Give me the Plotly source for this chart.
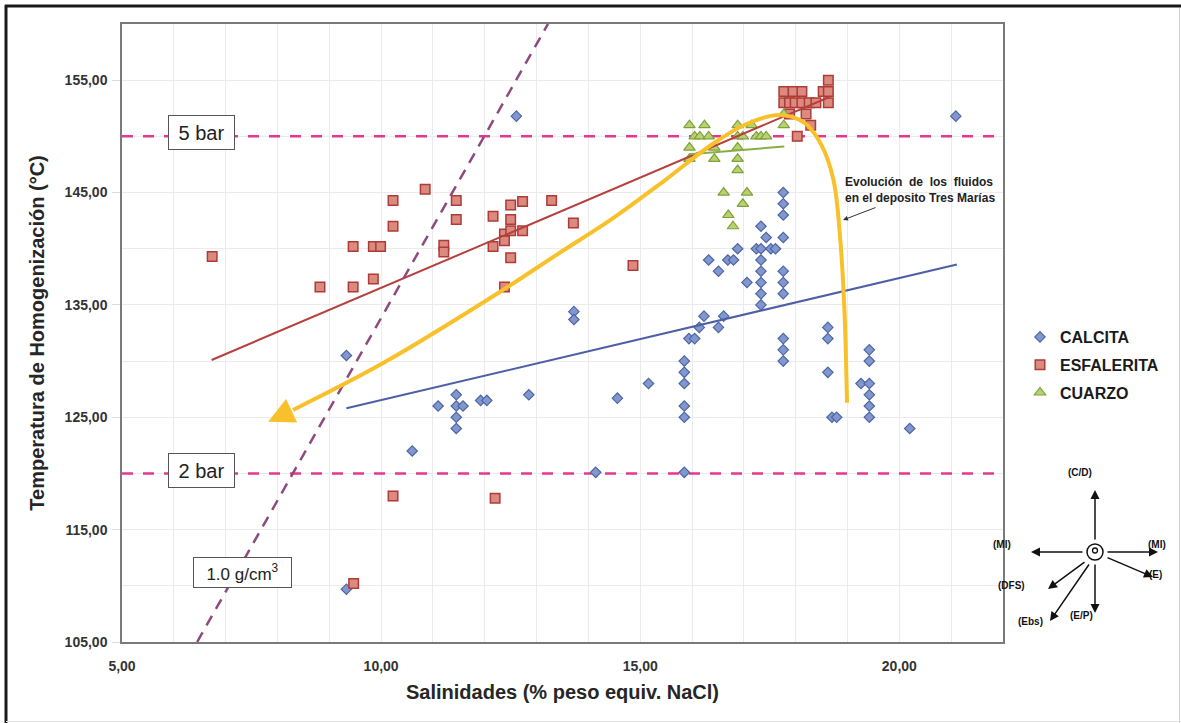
import plotly.graph_objects as go

# ---------------- data ----------------
calcita_x = [9.33, 9.33, 10.60, 11.10, 11.45, 11.45, 11.58, 11.45, 11.45, 11.92, 12.04,
             12.61, 12.85, 13.72, 13.72, 14.14, 14.56, 15.16, 15.85, 15.85, 15.85, 15.85,
             15.85, 15.85, 15.94, 16.05, 16.14, 16.23, 16.32, 16.51, 16.51, 16.61, 16.69,
             16.80, 16.88, 17.06, 17.24, 17.33, 17.33, 17.33, 17.33, 17.33, 17.33, 17.33,
             17.43, 17.52, 17.61, 17.76, 17.76, 17.76, 17.76, 17.76, 17.76, 17.76, 17.76,
             17.76, 17.76, 18.62, 18.62, 18.62, 18.70, 18.79, 19.26, 19.42, 19.42, 19.42,
             19.42, 19.42, 19.42, 20.20, 21.09]
calcita_y = [130.5, 109.7, 122.0, 126.0, 127.0, 126.0, 126.0, 125.0, 124.0, 126.5, 126.5,
             151.8, 127.0, 134.4, 133.7, 120.1, 126.7, 128.0, 130.0, 129.0, 128.0, 126.0,
             125.0, 120.1, 132.0, 132.0, 133.0, 134.0, 139.0, 138.0, 133.0, 134.0, 139.0,
             139.0, 140.0, 137.0, 140.0, 142.0, 140.0, 139.0, 138.0, 137.0, 136.0, 135.0,
             141.0, 140.0, 140.0, 145.0, 144.0, 143.0, 141.0, 138.0, 137.0, 136.0, 132.0,
             131.0, 130.0, 133.0, 132.0, 129.0, 125.0, 125.0, 128.0, 131.0, 130.0, 128.0,
             127.0, 126.0, 125.0, 124.0, 151.8]

esfalerita_x = [6.74, 8.82, 9.46, 9.46, 9.85, 9.99, 9.85, 10.23, 10.23, 10.85, 11.45, 11.45,
                11.21, 11.21, 12.16, 12.16, 12.38, 12.38, 12.50, 12.50, 12.50, 12.50, 12.38,
                12.73, 12.73, 13.29, 13.71, 14.86, 10.23, 12.20, 9.47,
                18.63, 17.77, 17.95, 18.12, 18.53, 18.63,
                17.77, 17.88, 17.99, 18.12, 18.26, 18.39, 18.63,
                17.88, 18.20, 18.29, 18.03]
esfalerita_y = [139.3, 136.6, 136.6, 140.2, 140.2, 140.2, 137.3, 144.3, 142.0, 145.3, 144.3, 142.6,
                140.3, 139.7, 142.9, 140.2, 141.3, 140.7, 143.9, 142.6, 141.6, 139.2, 136.6,
                144.2, 141.6, 144.3, 142.3, 138.5, 118.0, 117.8, 110.2,
                155.0, 154.0, 154.0, 154.0, 154.0, 154.0,
                153.0, 153.0, 153.0, 153.0, 153.0, 153.0, 153.0,
                152.0, 152.0, 151.0, 150.0]

cuarzo_x = [15.95, 16.24, 16.88, 17.15,
            16.05, 16.15, 16.32, 16.88, 16.98, 17.24, 17.33, 17.43,
            15.95, 16.43, 16.88, 15.95, 16.43, 16.88, 16.88,
            16.61, 17.06, 16.98, 16.70, 16.79, 17.77, 17.77]
cuarzo_y = [151.0, 151.0, 151.0, 151.0,
            150.0, 150.0, 150.0, 150.0, 150.0, 150.0, 150.0, 150.0,
            149.0, 149.0, 149.0, 148.0, 148.0, 148.0, 147.0,
            145.0, 145.0, 144.0, 143.0, 142.0, 152.0, 151.0]

# linear trend lines (end points)
esf_trend_x = [6.73, 18.65]
esf_trend_y = [130.1, 153.5]
cal_trend_x = [9.33, 21.11]
cal_trend_y = [125.8, 138.6]
cua_trend_x = [15.95, 17.78]
cua_trend_y = [148.4, 149.1]

# isochore 1.0 g/cm3
dens_x = [6.45, 13.22]
dens_y = [105.0, 160.0]

# axis ranges
x_range = [5, 22]
y_range = [105, 160]

# pressure levels
pressure_y = [150.0, 120.0]
pressure_labels = ["5 bar", "2 bar"]

# fluid evolution path (yellow), from its start to the arrow
evol_x = [18.99, 18.94, 18.86, 18.73, 18.50, 18.17, 17.69, 17.05, 16.39, 15.45, 14.47,
          13.40, 12.29, 10.03, 8.30]
evol_y = [126.3, 134.55, 140.8, 146.1, 149.2, 151.2, 151.9, 151.1, 149.3, 146.0, 142.7,
          139.5, 136.15, 129.8, 125.65]
evol_tip = (7.82, 124.6)

x_ticks = [5, 10, 15, 20]
y_ticks = [105, 115, 125, 135, 145, 155]

FONT = "Liberation Sans, Arial, sans-serif"

# ---------------- layout geometry ----------------
W, H = 1181, 723
L, R, T, B = 122, 1003, 24, 642


def px(xp):
    return (xp - L) / (R - L)


def py(yp):
    return (B - yp) / (B - T)


fig = go.Figure()

# pressure lines (below the markers)
for yv in pressure_y:
    fig.add_trace(go.Scatter(x=x_range, y=[yv, yv], mode="lines", showlegend=False,
                             line=dict(color="#E5388C", width=2.5, dash="11px,10px"),
                             hoverinfo="skip"))

fig.add_trace(go.Scatter(
    x=calcita_x, y=calcita_y, mode="markers", name="CALCITA", legendgroup="a",
    marker=dict(symbol="diamond", size=8, color="#8197CD",
                line=dict(color="#4E66A6", width=1.2))))
fig.add_trace(go.Scatter(
    x=esfalerita_x, y=esfalerita_y, mode="markers", name="ESFALERITA", legendgroup="b",
    marker=dict(symbol="square", size=9.5, color="#DB8A80",
                line=dict(color="#AE3B36", width=1.5))))
fig.add_trace(go.Scatter(
    x=cuarzo_x, y=cuarzo_y, mode="markers", name="CUARZO", legendgroup="c",
    marker=dict(symbol="triangle-up", size=10, color="#B8D270",
                line=dict(color="#7FA03C", width=1.2))))

for tx, ty, col in [(esf_trend_x, esf_trend_y, "#B5403D"),
                    (cal_trend_x, cal_trend_y, "#4F5FA5"),
                    (cua_trend_x, cua_trend_y, "#8AAE45")]:
    fig.add_trace(go.Scatter(x=tx, y=ty, mode="lines", showlegend=False,
                             line=dict(color=col, width=2), hoverinfo="skip"))

fig.add_trace(go.Scatter(x=dens_x, y=dens_y, mode="lines", showlegend=False,
                         line=dict(color="#8E4A7E", width=2.5, dash="11px,8px"),
                         hoverinfo="skip"))

fig.add_trace(go.Scatter(x=evol_x, y=evol_y, mode="lines", showlegend=False,
                         line=dict(color="#F8C12B", width=4, shape="spline", smoothing=1.0),
                         hoverinfo="skip"))

shapes = []
# outer frame of the picture
shapes += [
    dict(type="line", xref="paper", yref="paper", x0=px(5), x1=px(1181), y0=py(6), y1=py(6),
         line=dict(color="#1a1a1a", width=3)),
    dict(type="line", xref="paper", yref="paper", x0=px(6), x1=px(6), y0=py(5), y1=py(723),
         line=dict(color="#1a1a1a", width=3)),
    dict(type="line", xref="paper", yref="paper", x0=px(1179.5), x1=px(1179.5), y0=py(8), y1=py(723),
         line=dict(color="#d0d0d0", width=1)),
    dict(type="line", xref="paper", yref="paper", x0=px(6), x1=px(1181), y0=py(721.5), y1=py(721.5),
         line=dict(color="#e2e2e2", width=1)),
]

# compass rose
cx, cy = 1095, 552
shapes += [
    dict(type="circle", xref="paper", yref="paper", xsizemode="pixel", ysizemode="pixel",
         xanchor=px(cx), yanchor=py(cy), x0=-8, x1=8, y0=-8, y1=8,
         line=dict(color="#111", width=1.5)),
    dict(type="circle", xref="paper", yref="paper", xsizemode="pixel", ysizemode="pixel",
         xanchor=px(cx), yanchor=py(cy), x0=-2.5, x1=2.5, y0=-1, y1=4,
         line=dict(color="#111", width=1.3)),
]

annotations = []
# pressure labels
for yv, lab in zip(pressure_y, pressure_labels):
    annotations.append(dict(x=6.54, y=yv + 0.3, xref="x", yref="y", text=lab, showarrow=False,
                            font=dict(family=FONT, size=20, color="#222"),
                            bgcolor="white", bordercolor="#555", borderwidth=1,
                            borderpad=5, width=55, height=23))
annotations.append(dict(x=7.33, y=111.2, xref="x", yref="y", text="1.0 g/cm<sup>3</sup>",
                        showarrow=False, font=dict(family=FONT, size=17, color="#222"),
                        bgcolor="white", bordercolor="#555", borderwidth=1,
                        borderpad=4, width=89, height=21))
# evolution arrowhead
annotations.append(dict(x=evol_tip[0], y=evol_tip[1], ax=evol_x[-1], ay=evol_y[-1],
                        xref="x", yref="y", axref="x", ayref="y", text="", showarrow=True,
                        arrowhead=2, arrowsize=1.3, arrowwidth=4, arrowcolor="#F8C12B"))
# evolution note
annotations.append(dict(x=px(843), y=py(190), xref="paper", yref="paper", xanchor="left",
                        yanchor="middle", align="left", showarrow=False,
                        text="Evolución  de  los  fluidos<br>en el deposito Tres Marías",
                        font=dict(family=FONT, size=12, color="#222", weight="bold")))
annotations.append(dict(x=px(843), y=py(220), ax=877 - 843, ay=207 - 220, xref="paper",
                        yref="paper", text="", showarrow=True, arrowhead=2, arrowsize=1,
                        arrowwidth=1, arrowcolor="#333"))

# compass arrows: (tail, head)
compass = [((1095, 541), (1095, 490)), ((1084, 552), (1031, 552)), ((1106, 552), (1158, 552)),
           ((1106, 557), (1153, 577)), ((1086, 561), (1048, 589)), ((1090, 563), (1050, 621)),
           ((1095, 563), (1095, 613))]
for (tx, ty), (hx, hy) in compass:
    annotations.append(dict(x=px(hx), y=py(hy), xref="paper", yref="paper", ax=tx - hx, ay=ty - hy,
                            text="", showarrow=True, arrowhead=2, arrowsize=1.2, arrowwidth=1.5,
                            arrowcolor="#111"))
compass_labels = [("(C/D)", 1094, 480), ("(MI)", 1013, 552), ("(MI)", 1168, 552),
                  ("(E)", 1164, 582), ("(DFS)", 1027, 593), ("(Ebs)", 1045, 629),
                  ("(E/P)", 1095, 623)]
for t, lx, ly in compass_labels:
    annotations.append(dict(x=px(lx), y=py(ly), xref="paper", yref="paper", text=t,
                            showarrow=False, font=dict(family=FONT, size=10, color="#111",
                                                       weight="bold")))

fig.update_layout(
    width=W, height=H,
    margin=dict(l=L, r=W - R, t=T, b=H - B, autoexpand=False),
    paper_bgcolor="white", plot_bgcolor="white",
    separators=",.",
    shapes=shapes, annotations=annotations,
    showlegend=True,
    legend=dict(x=px(1020), y=py(320), xanchor="left", yanchor="top",
                font=dict(family=FONT, size=16, color="#1a1a1a", weight="bold"),
                tracegroupgap=4, itemwidth=30, bgcolor="rgba(0,0,0,0)"),
    xaxis=dict(range=x_range, tickvals=x_ticks, tickformat=".2f",
               showgrid=True, gridcolor="#ebebeb", gridwidth=1,
               minor=dict(dtick=1, tick0=5, showgrid=True, gridcolor="#ebebeb", gridwidth=1),
               showline=True, linecolor="#7a7a7a", linewidth=1.5, mirror=True, zeroline=False,
               ticks="", ticklabelstandoff=10,
               tickfont=dict(family=FONT, size=14, color="#333", weight="bold"),
               title=dict(text="Salinidades (% peso equiv. NaCl)", standoff=12,
                          font=dict(family=FONT, size=20, color="#262626", weight="bold"))),
    yaxis=dict(range=y_range, tickvals=y_ticks, tickformat=".2f",
               showgrid=True, gridcolor="#ebebeb", gridwidth=1,
               minor=dict(dtick=5, tick0=105, showgrid=True, gridcolor="#ebebeb", gridwidth=1),
               showline=True, linecolor="#7a7a7a", linewidth=1.5, mirror=True, zeroline=False,
               ticks="outside", ticklen=8, tickcolor="#dcdcdc", ticklabelstandoff=2,
               tickfont=dict(family=FONT, size=14, color="#333", weight="bold"),
               title=dict(text="Temperatura de Homogenización (°C)", standoff=15,
                          font=dict(family=FONT, size=20, color="#262626", weight="bold"))),
)

fig.write_html("out.html")
